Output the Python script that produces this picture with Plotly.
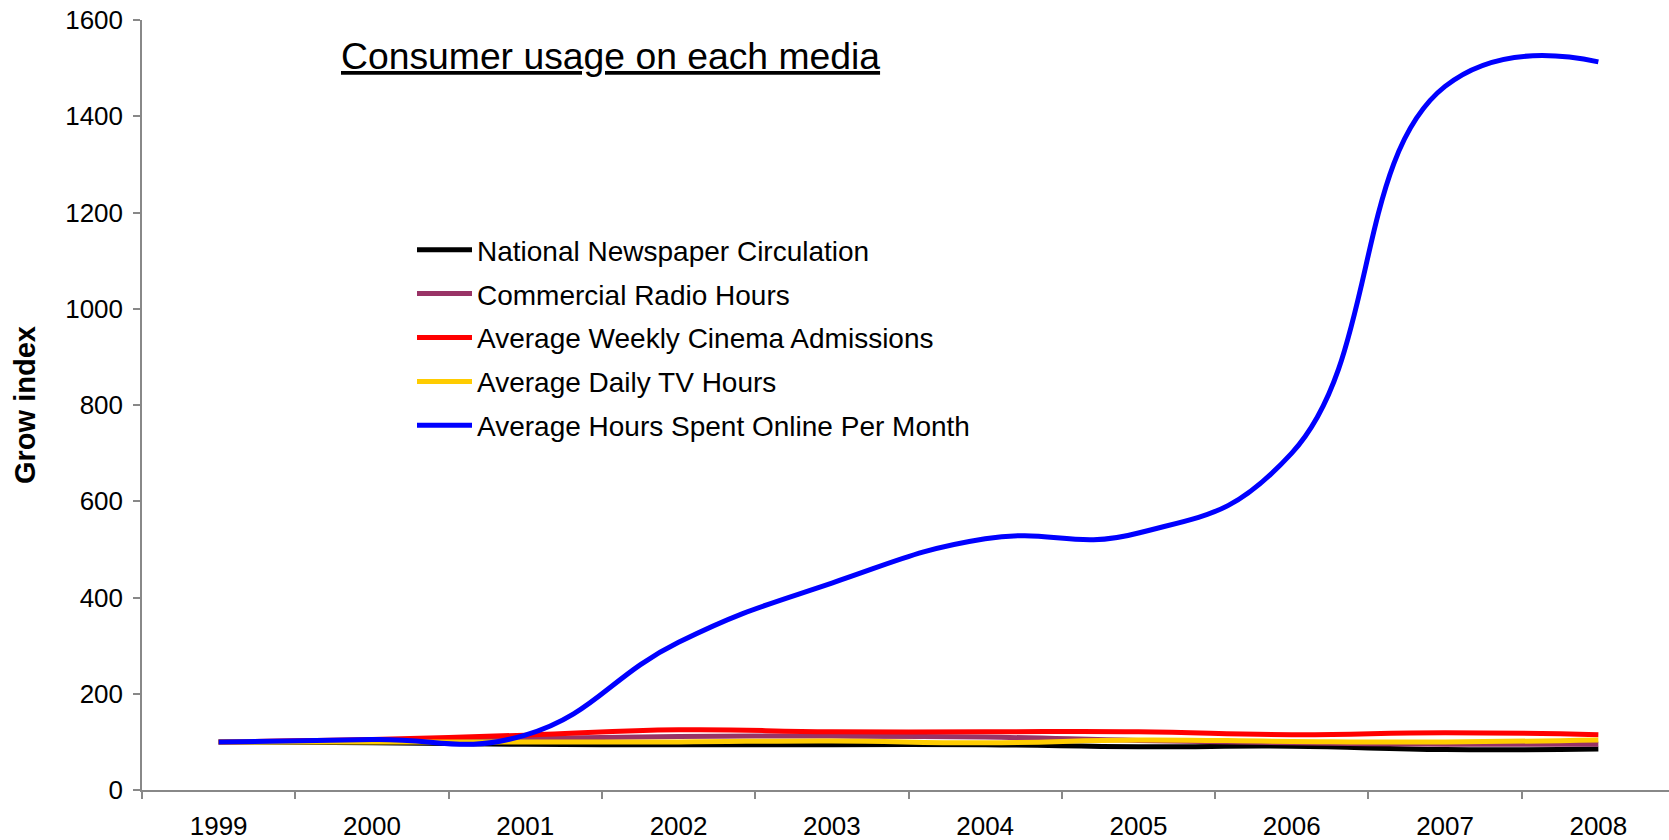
import plotly.graph_objects as go

years = ["1999", "2000", "2001", "2002", "2003", "2004", "2005", "2006", "2007", "2008"]

newspaper = [100, 98, 95, 94, 94, 94, 90, 91, 84, 85]
radio = [100, 103, 107, 111, 112, 110, 103, 98, 95, 95]
cinema = [100, 105, 114, 125, 121, 121, 121, 115, 119, 115]
tv = [100, 100, 100, 100, 102, 98, 104, 101, 100, 104]
online = [100, 105, 114, 307, 430, 522, 534, 700, 1462, 1513]

series_names = [
    "National Newspaper Circulation",
    "Commercial Radio Hours",
    "Average Weekly Cinema Admissions",
    "Average Daily TV Hours",
    "Average Hours Spent Online Per Month",
]
series_values = [newspaper, radio, cinema, tv, online]
series_colors = ["#000000", "#993366", "#FF0000", "#FFCC00", "#0000FF"]

y_ticks = [0, 200, 400, 600, 800, 1000, 1200, 1400, 1600]

FONT = "Liberation Sans, Arial, Helvetica, sans-serif"

fig = go.Figure()
for name, vals, col in zip(series_names, series_values, series_colors):
    fig.add_trace(go.Scatter(
        x=years, y=vals, name=name, mode="lines",
        line=dict(color=col, width=5, shape="spline", smoothing=1.3),
        legendgroup=name,
    ))

W, H = 1669, 840
L, R, T, B = 142, 0, 20, 50
plot_w = W - L - R
cat_w = 153.3

fig.update_layout(
    width=W, height=H,
    margin=dict(l=L, r=R, t=T, b=B),
    paper_bgcolor="white", plot_bgcolor="white",
    font=dict(family=FONT, color="#000000"),
    showlegend=True,
    legend=dict(
        x=(412 - L) / plot_w, xanchor="left",
        y=(790 - 225) / 770, yanchor="top",
        font=dict(size=28, family=FONT, color="#000000"),
        bgcolor="rgba(0,0,0,0)", borderwidth=0,
        itemwidth=55, tracegroupgap=4.5,
        traceorder="grouped",
    ),
    xaxis=dict(
        type="category",
        range=[-0.5, -0.5 + plot_w / cat_w],
        tickson="boundaries",
        ticks="outside", ticklen=7, tickcolor="#888888", tickwidth=1.5,
        showline=True, linecolor="#888888", linewidth=1.5,
        showgrid=False, zeroline=False,
        tickfont=dict(size=26, family=FONT, color="#000000"),
        ticklabelstandoff=12,
    ),
    yaxis=dict(
        range=[0, 1600],
        tickvals=y_ticks,
        ticks="outside", ticklen=7, tickcolor="#888888", tickwidth=1.5,
        showline=True, linecolor="#888888", linewidth=1.5,
        showgrid=False, zeroline=False,
        tickfont=dict(size=26, family=FONT, color="#000000"),
        ticklabelstandoff=5,
    ),
)

fig.add_annotation(
    text="<u>Consumer usage on each media</u>",
    xref="paper", yref="paper",
    x=(339 - L) / plot_w, y=(790 - 56) / 770,
    xanchor="left", yanchor="middle", showarrow=False,
    font=dict(size=37.3, family=FONT, color="#000000"),
)

fig.add_annotation(
    text="<b>Grow index</b>",
    xref="paper", yref="paper",
    x=(25 - L) / plot_w, y=(790 - 405) / 770,
    xanchor="center", yanchor="middle", textangle=-90, showarrow=False,
    font=dict(size=29, family=FONT, color="#000000"),
)

fig.write_html("out.html")
